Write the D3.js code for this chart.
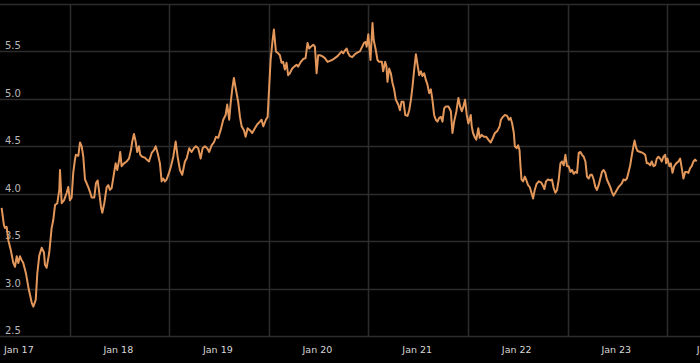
<!DOCTYPE html>
<html>
<head>
<meta charset="utf-8">
<script src="https://cdn.jsdelivr.net/npm/d3@7"></script>
<style>
  body { margin: 0; background: #000; }
  svg { display: block; }
  .tick-y { font: 10px "DejaVu Sans", sans-serif; fill: #b8b8b8; }
  .tick-x { font: 9.5px "DejaVu Sans", sans-serif; fill: #d8d8d8; }
</style>
</head>
<body>
<div id="chart"></div>
<script>
// time of each reading, as decimal years
var years = [
  2016.833, 2016.856, 2016.866, 2016.883, 2016.900, 2016.924, 2016.950, 2016.967, 2016.984, 2017.000,
  2017.017, 2017.034, 2017.050, 2017.077, 2017.100, 2017.135, 2017.151, 2017.175, 2017.191, 2017.211,
  2017.235, 2017.258, 2017.268, 2017.285, 2017.311, 2017.335, 2017.351, 2017.369, 2017.392, 2017.412,
  2017.419, 2017.436, 2017.459, 2017.486, 2017.502, 2017.519, 2017.536, 2017.552, 2017.569, 2017.579,
  2017.603, 2017.620, 2017.637, 2017.653, 2017.670, 2017.687, 2017.703, 2017.720, 2017.737, 2017.763,
  2017.780, 2017.797, 2017.810, 2017.831, 2017.844, 2017.864, 2017.888, 2017.904, 2017.921, 2017.938,
  2017.964, 2017.978, 2017.994, 2018.014, 2018.024, 2018.038, 2018.062, 2018.089, 2018.112, 2018.132,
  2018.145, 2018.162, 2018.179, 2018.195, 2018.212, 2018.225, 2018.245, 2018.272, 2018.290, 2018.313,
  2018.340, 2018.363, 2018.380, 2018.400, 2018.423, 2018.440, 2018.456, 2018.473, 2018.490, 2018.514,
  2018.534, 2018.557, 2018.581, 2018.601, 2018.624, 2018.647, 2018.674, 2018.691, 2018.717, 2018.741,
  2018.764, 2018.784, 2018.808, 2018.832, 2018.852, 2018.875, 2018.898, 2018.918, 2018.942, 2018.965,
  2018.986, 2019.009, 2019.033, 2019.059, 2019.083, 2019.099, 2019.119, 2019.133, 2019.149, 2019.166,
  2019.186, 2019.209, 2019.227, 2019.244, 2019.267, 2019.284, 2019.304, 2019.327, 2019.350, 2019.377,
  2019.400, 2019.427, 2019.444, 2019.461, 2019.488, 2019.505, 2019.521, 2019.535, 2019.555, 2019.568,
  2019.588, 2019.611, 2019.628, 2019.645, 2019.661, 2019.678, 2019.695, 2019.711, 2019.728, 2019.752,
  2019.772, 2019.796, 2019.812, 2019.839, 2019.862, 2019.886, 2019.906, 2019.922, 2019.940, 2019.963,
  2019.980, 2019.997, 2020.013, 2020.030, 2020.053, 2020.080, 2020.107, 2020.130, 2020.153, 2020.180,
  2020.207, 2020.231, 2020.248, 2020.264, 2020.281, 2020.298, 2020.314, 2020.331, 2020.354, 2020.381,
  2020.408, 2020.431, 2020.454, 2020.472, 2020.489, 2020.499, 2020.515, 2020.537, 2020.557, 2020.569,
  2020.589, 2020.607, 2020.624, 2020.651, 2020.664, 2020.684, 2020.697, 2020.707, 2020.724, 2020.741,
  2020.757, 2020.774, 2020.791, 2020.815, 2020.832, 2020.848, 2020.868, 2020.885, 2020.908, 2020.925,
  2020.942, 2020.958, 2020.975, 2020.992, 2021.008, 2021.025, 2021.042, 2021.058, 2021.075, 2021.092,
  2021.108, 2021.125, 2021.142, 2021.158, 2021.175, 2021.192, 2021.209, 2021.226, 2021.243, 2021.259,
  2021.276, 2021.293, 2021.319, 2021.343, 2021.359, 2021.376, 2021.399, 2021.419, 2021.436, 2021.453,
  2021.469, 2021.486, 2021.503, 2021.519, 2021.543, 2021.553, 2021.566, 2021.586, 2021.599, 2021.619,
  2021.633, 2021.653, 2021.676, 2021.699, 2021.719, 2021.743, 2021.766, 2021.786, 2021.809, 2021.833,
  2021.846, 2021.866, 2021.886, 2021.909, 2021.926, 2021.943, 2021.959, 2021.976, 2021.986, 2022.003,
  2022.019, 2022.033, 2022.043, 2022.053, 2022.069, 2022.086, 2022.099, 2022.119, 2022.136, 2022.153,
  2022.169, 2022.186, 2022.203, 2022.226, 2022.249, 2022.266, 2022.283, 2022.299, 2022.319, 2022.343,
  2022.359, 2022.376, 2022.393, 2022.410, 2022.427, 2022.444, 2022.460, 2022.477, 2022.494, 2022.510,
  2022.527, 2022.545, 2022.561, 2022.578, 2022.595, 2022.611, 2022.628, 2022.645, 2022.661, 2022.678,
  2022.695, 2022.711, 2022.728, 2022.745, 2022.761, 2022.778, 2022.795, 2022.811, 2022.828, 2022.845,
  2022.861, 2022.878, 2022.895, 2022.911, 2022.928, 2022.945, 2022.961, 2022.978, 2022.995, 2023.011,
  2023.028, 2023.045, 2023.061, 2023.078, 2023.095, 2023.112, 2023.129, 2023.145, 2023.162, 2023.179,
  2023.189, 2023.206, 2023.219, 2023.246, 2023.272, 2023.296, 2023.312, 2023.329, 2023.346, 2023.362,
  2023.379, 2023.396, 2023.412, 2023.429, 2023.446, 2023.462, 2023.479, 2023.496, 2023.506, 2023.519,
  2023.539, 2023.553, 2023.570, 2023.587, 2023.607, 2023.630, 2023.647, 2023.663, 2023.680, 2023.697,
  2023.713, 2023.730, 2023.747, 2023.763, 2023.780, 2023.797, 2023.813
];

var rates = [
  3.85, 3.67, 3.64, 3.65, 3.51, 3.41, 3.27, 3.23, 3.34, 3.27,
  3.34, 3.30, 3.27, 3.16, 3.02, 2.85, 2.81, 2.88, 3.16, 3.35,
  3.43, 3.38, 3.25, 3.22, 3.38, 3.64, 3.72, 3.88, 3.90, 4.04,
  4.25, 3.90, 3.93, 4.01, 4.07, 3.93, 3.96, 4.22, 4.36, 4.41,
  4.40, 4.54, 4.50, 4.39, 4.15, 4.11, 4.07, 4.02, 3.96, 3.96,
  4.11, 4.14, 4.04, 3.86, 3.80, 3.90, 4.07, 4.09, 4.04, 4.06,
  4.23, 4.32, 4.25, 4.36, 4.44, 4.29, 4.32, 4.34, 4.37, 4.46,
  4.55, 4.63, 4.55, 4.44, 4.50, 4.41, 4.39, 4.38, 4.36, 4.34,
  4.43, 4.46, 4.50, 4.43, 4.32, 4.13, 4.16, 4.13, 4.15, 4.22,
  4.29, 4.39, 4.55, 4.39, 4.25, 4.20, 4.34, 4.37, 4.48, 4.44,
  4.48, 4.50, 4.48, 4.37, 4.48, 4.50, 4.48, 4.44, 4.51, 4.54,
  4.60, 4.59, 4.67, 4.78, 4.83, 4.94, 4.78, 4.95, 5.10, 5.22,
  5.10, 4.97, 4.81, 4.71, 4.67, 4.60, 4.69, 4.67, 4.64, 4.69,
  4.73, 4.76, 4.78, 4.71, 4.78, 4.81, 5.13, 5.41, 5.62, 5.73,
  5.50, 5.48, 5.46, 5.38, 5.39, 5.31, 5.38, 5.25, 5.27, 5.32,
  5.34, 5.36, 5.34, 5.39, 5.42, 5.43, 5.59, 5.53, 5.55, 5.57,
  5.55, 5.27, 5.46, 5.46, 5.45, 5.43, 5.39, 5.40, 5.41, 5.43,
  5.45, 5.48, 5.50, 5.48, 5.51, 5.53, 5.48, 5.45, 5.44, 5.47,
  5.49, 5.50, 5.55, 5.59, 5.60, 5.55, 5.68, 5.41, 5.80, 5.62,
  5.52, 5.41, 5.39, 5.39, 5.29, 5.39, 5.34, 5.18, 5.32, 5.27,
  5.17, 5.10, 4.99, 4.94, 4.88, 4.97, 4.97, 4.83, 4.82, 4.88,
  4.99, 5.13, 5.31, 5.47, 5.36, 5.25, 5.29, 5.24, 5.27, 5.20,
  5.15, 5.06, 5.10, 4.99, 4.83, 4.78, 4.76, 4.80, 4.81, 4.76,
  4.90, 4.92, 4.92, 4.87, 4.64, 4.76, 4.87, 5.01, 4.92, 4.87,
  4.92, 4.99, 4.83, 4.74, 4.83, 4.71, 4.64, 4.59, 4.57, 4.69,
  4.59, 4.62, 4.60, 4.60, 4.57, 4.54, 4.59, 4.64, 4.66, 4.71,
  4.78, 4.81, 4.83, 4.82, 4.78, 4.80, 4.74, 4.64, 4.50, 4.48,
  4.51, 4.46, 4.29, 4.15, 4.13, 4.18, 4.15, 4.09, 4.07, 4.01,
  3.95, 4.04, 4.10, 4.13, 4.12, 4.09, 4.05, 4.13, 4.15, 4.14,
  4.15, 4.06, 4.01, 4.04, 4.15, 4.32, 4.34, 4.30, 4.41, 4.29,
  4.29, 4.23, 4.25, 4.21, 4.23, 4.22, 4.43, 4.44, 4.41, 4.39,
  4.34, 4.18, 4.16, 4.20, 4.20, 4.15, 4.07, 4.04, 4.09, 4.16,
  4.23, 4.25, 4.22, 4.15, 4.11, 4.07, 4.02, 3.98, 4.01, 4.04,
  4.07, 4.09, 4.11, 4.15, 4.14, 4.16, 4.23, 4.30, 4.41, 4.51,
  4.56, 4.48, 4.45, 4.44, 4.43, 4.41, 4.32, 4.32, 4.30, 4.34,
  4.29, 4.30, 4.37, 4.39, 4.37, 4.34, 4.39, 4.41, 4.32, 4.37,
  4.29, 4.32, 4.22, 4.29, 4.32, 4.34, 4.37, 4.27, 4.16, 4.23,
  4.23, 4.22, 4.27, 4.29, 4.34, 4.36, 4.34
];

var yTicks = [2.5, 3.0, 3.5, 4.0, 4.5, 5.0, 5.5, 6.0];
var xTickDates = ["2017-01-01", "2018-01-01", "2019-01-01", "2020-01-01",
                  "2021-01-01", "2022-01-01", "2023-01-01", "2024-01-01"];
var gridDates = ["2017-07-08", "2018-07-08", "2019-07-08", "2020-07-08",
                 "2021-07-08", "2022-07-08", "2023-07-08"];

var width = 700, height = 363;
var plotTop = 4, plotBottom = 336;

function decToDate(t) {
    var yr = Math.floor(t);
    var s = Date.UTC(yr, 0, 1), e = Date.UTC(yr + 1, 0, 1);
    return new Date(s + (t - yr) * (e - s));
}

var parse = d3.utcParse("%Y-%m-%d");
var data = years.map(function(t, i) { return { date: decToDate(t), value: rates[i] }; });

var x = d3.scaleUtc()
    .domain([parse("2017-01-01"), parse("2024-01-01")])
    .range([18.3, 715.3]);

var y = d3.scaleLinear()
    .domain([2.5, 6.0])
    .range([plotBottom, plotTop]);

var svg = d3.select("#chart").append("svg")
    .attr("width", width)
    .attr("height", height)
    .style("background", "#000");

// horizontal grid
svg.append("g")
    .selectAll("line")
    .data(yTicks)
    .enter().append("line")
    .attr("x1", 0).attr("x2", width)
    .attr("y1", function(d) { return Math.round(y(d)) + 0.5; })
    .attr("y2", function(d) { return Math.round(y(d)) + 0.5; })
    .attr("stroke", "#2c2c2c")
    .attr("stroke-width", 1.5);

// vertical grid
svg.append("g")
    .selectAll("line")
    .data(gridDates)
    .enter().append("line")
    .attr("x1", function(d) { return Math.round(x(parse(d))) + 0.5; })
    .attr("x2", function(d) { return Math.round(x(parse(d))) + 0.5; })
    .attr("y1", y(6.0)).attr("y2", y(2.5))
    .attr("stroke", "#2c2c2c")
    .attr("stroke-width", 1.5);

// y labels sit just above their gridline
svg.append("g")
    .selectAll("text")
    .data(yTicks.filter(function(d) { return d < 6; }))
    .enter().append("text")
    .attr("class", "tick-y")
    .attr("x", 5)
    .attr("y", function(d) { return y(d) - 2; })
    .text(function(d) { return d3.format(".1f")(d); });

// x axis labels
var xAxis = d3.axisBottom(x)
    .tickValues(xTickDates.map(parse))
    .tickFormat(d3.utcFormat("%b %y"))
    .tickSize(0)
    .tickPadding(10);

var gx = svg.append("g")
    .attr("transform", "translate(0," + plotBottom + ")")
    .call(xAxis);
gx.select(".domain").remove();
gx.selectAll("text")
    .attr("class", "tick-x")
    .attr("fill", null);
// last label is clipped by the right edge, as in the original
gx.selectAll("text").filter(function(d, i) { return i === xTickDates.length - 1; })
    .attr("text-anchor", "start")
    .attr("dx", -19);

var line = d3.line()
    .x(function(d) { return x(d.date); })
    .y(function(d) { return y(d.value); });

svg.append("path")
    .datum(data)
    .attr("fill", "none")
    .attr("stroke", "#e3975a")
    .attr("stroke-width", 2)
    .attr("stroke-linejoin", "round")
    .attr("d", line);
</script>
</body>
</html>
